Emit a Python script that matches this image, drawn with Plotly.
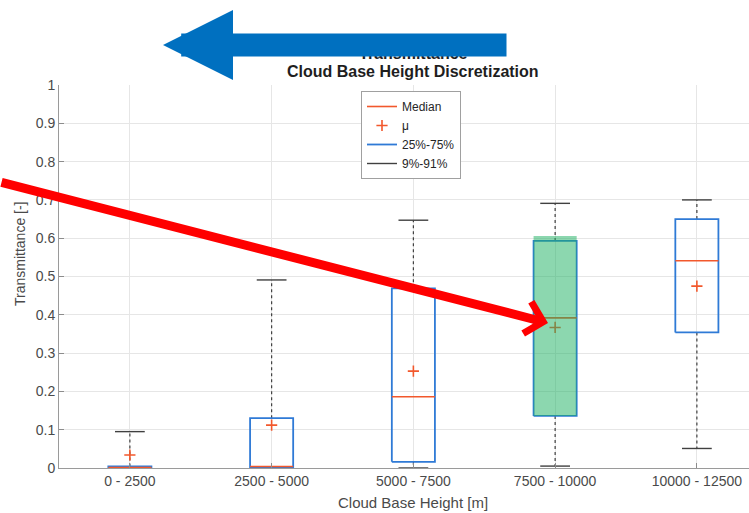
import plotly.graph_objects as go

# Transmittance statistics per cloud-base-height bin
categories = ["0 - 2500", "2500 - 5000", "5000 - 7500", "7500 - 10000", "10000 - 12500"]
p09 = [0.000, 0.000, 0.000, 0.005, 0.051]     # 9th percentile (lower whisker)
q25 = [0.000, 0.000, 0.016, 0.136, 0.354]     # 25th percentile
median = [0.001, 0.004, 0.186, 0.392, 0.541]
q75 = [0.004, 0.130, 0.469, 0.593, 0.650]     # 75th percentile
p91 = [0.095, 0.491, 0.647, 0.691, 0.700]     # 91st percentile (upper whisker)
mean = [0.034, 0.112, 0.253, 0.367, 0.475]
ytick_vals = [0, 0.1, 0.2, 0.3, 0.4, 0.5, 0.6, 0.7, 0.8, 0.9, 1]
highlight_bin = 3

W, H = 749, 513
ML, MR, MT, MB = 59, 0, 85, 45
PW, PH = W - ML - MR, H - MT - MB
CAT_PX = 141.75  # pixel width of one category slot


def px(x):
    return (x - ML) / PW


def py(y):
    return (H - MB - y) / PH


FONT = "Liberation Sans, Arial, Helvetica, sans-serif"
BLUE = "#2F7AD6"
ORANGE = "#F2582C"
GREY = "#404040"
TXT = "#4a4a4a"

pos = list(range(len(categories)))
hw, cw = 0.152, 0.105

box_x, box_y, med_x, med_y = [], [], [], []
wh_x, wh_y, cap_x, cap_y = [], [], [], []
for i in pos:
    box_x += [i - hw, i + hw, i + hw, i - hw, i - hw, None]
    box_y += [q25[i], q25[i], q75[i], q75[i], q25[i], None]
    med_x += [i - hw, i + hw, None]
    med_y += [median[i], median[i], None]
    wh_x += [i, i, None, i, i, None]
    wh_y += [q75[i], p91[i], None, q25[i], p09[i], None]
    cap_x += [i - cw, i + cw, None, i - cw, i + cw, None]
    cap_y += [p91[i], p91[i], None, p09[i], p09[i], None]

fig = go.Figure()
fig.add_trace(go.Scatter(x=wh_x, y=wh_y, mode="lines", showlegend=False,
                         line=dict(color=GREY, width=1.2, dash="3px,3px"), hoverinfo="skip"))
fig.add_trace(go.Scatter(x=cap_x, y=cap_y, mode="lines", name="9%-91%", legendrank=4,
                         line=dict(color=GREY, width=1.4)))
fig.add_trace(go.Scatter(x=box_x, y=box_y, mode="lines", name="25%-75%", legendrank=3,
                         line=dict(color=BLUE, width=1.8)))
fig.add_trace(go.Scatter(x=med_x, y=med_y, mode="lines", name="Median", legendrank=1,
                         line=dict(color=ORANGE, width=1.6)))
fig.add_trace(go.Scatter(x=pos, y=mean, mode="markers", name="\u03bc", legendrank=2,
                         marker=dict(symbol="cross-thin", size=8, color=ORANGE,
                                     line=dict(color=ORANGE, width=1.6))))

# highlighted box
fig.add_shape(type="rect", xref="x", yref="y",
              x0=highlight_bin - hw, x1=highlight_bin + hw,
              y0=q25[highlight_bin], y1=q75[highlight_bin] + 0.013,
              fillcolor="rgba(25,175,95,0.5)", line=dict(width=0), layer="above")


def label(text, x, y, size, color=TXT, angle=0):
    return dict(text=text, x=px(x), y=py(y), xref="paper", yref="paper",
                xanchor="center", yanchor="middle", textangle=angle,
                showarrow=False, font=dict(family=FONT, size=size, color=color))


annotations = [
    label("<b>Transmittance</b>", 413, 53.5, 16, "#1e1e1e"),
    label("<b>Cloud Base Height Discretization</b>", 413, 72, 16, "#1e1e1e"),
    label("Cloud Base Height [m]", 413, 503, 15),
    label("Transmittance [-]", 20, 254, 14, angle=-90),
    # blue arrow pointing left
    dict(text="", x=px(163), y=py(45), xref="paper", yref="paper",
         showarrow=True, ax=345, ay=0, arrowhead=2, arrowwidth=23,
         arrowsize=14 / 23, arrowcolor="#0070C0", font=dict(size=1)),
    # red arrow pointing at the highlighted mean
    dict(text="", x=px(548), y=py(323), xref="paper", yref="paper",
         showarrow=True, ax=-556, ay=-141, arrowhead=4, arrowwidth=9,
         arrowsize=0.7, arrowcolor="#FF0000", font=dict(size=1)),
]

fig.update_layout(
    width=W, height=H,
    margin=dict(l=ML, r=MR, t=MT, b=MB, pad=0),
    paper_bgcolor="white", plot_bgcolor="white",
    font=dict(family=FONT, size=14, color=TXT),
    annotations=annotations,
    legend=dict(x=px(411), y=py(91), xanchor="center", yanchor="top",
                bgcolor="white", bordercolor="#a0a0a0", borderwidth=1,
                font=dict(family=FONT, size=12, color="#262626"),
                itemwidth=30, traceorder="normal"),
    xaxis=dict(range=[-0.5, PW / CAT_PX - 0.5], tickmode="array", tickvals=pos,
               ticktext=categories, ticks="inside", ticklen=5, tickcolor="#8c8c8c",
               showline=True, linecolor="#9a9a9a", linewidth=1,
               showgrid=True, gridcolor="#e6e6e6", gridwidth=1, zeroline=False,
               tickfont=dict(family=FONT, size=14, color=TXT)),
    yaxis=dict(range=[0, 1], tickmode="array", tickvals=ytick_vals,
               ticktext=[f"{v:g}" for v in ytick_vals],
               ticks="inside", ticklen=5, tickcolor="#8c8c8c",
               showline=True, linecolor="#9a9a9a", linewidth=1,
               showgrid=True, gridcolor="#e6e6e6", gridwidth=1, zeroline=False,
               tickfont=dict(family=FONT, size=14, color=TXT)),
)

fig.write_html("out.html")
